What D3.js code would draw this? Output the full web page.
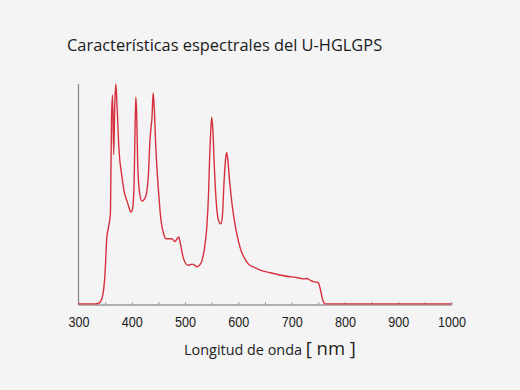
<!DOCTYPE html>
<html>
<head>
<meta charset="utf-8">
<script src="https://cdn.jsdelivr.net/npm/d3@7"></script>
<style>
  html, body { margin: 0; padding: 0; background: #f4f4f4; }
  svg { display: block; }
</style>
</head>
<body>
<svg id="chart" width="520" height="390"></svg>
<script>
// spectrum: wavelength [nm] and relative intensity (top of axis = 100)
const wavelengths = [300, 330, 338, 344, 350, 353, 357, 360, 362, 364, 366, 368, 370, 372, 376, 381, 386, 391, 395, 398, 401, 404, 406, 407.5, 409, 411, 414, 419, 424, 428, 431, 434, 436, 438, 440, 442, 445, 450, 455, 460, 464, 470, 475, 481, 485, 488, 491, 496, 502, 506, 513, 518, 522, 527, 531, 536, 541, 544, 546, 548, 550, 552, 555, 559, 563, 567, 570, 573, 576, 578, 580, 584, 589, 594, 600, 606, 612, 619, 630, 641, 660, 678, 697, 706, 714, 722, 728, 735, 741, 748, 751, 754, 757, 760, 764, 770, 800, 900, 1000]
const intensity   = [0.5, 0.5, 0.8, 3, 15, 30, 36, 42, 85, 95, 68, 90, 100, 92, 70, 59, 51, 47, 44, 42, 43, 52, 78, 94, 88, 65, 52, 47, 48, 51, 58, 74, 80, 85, 96, 90, 72, 52, 38, 32, 30, 30, 30, 28.7, 30, 30.8, 28, 22, 18.5, 18, 18.5, 18, 17.3, 18, 19.6, 25, 36, 50, 66, 78, 85, 80, 62, 45, 38, 36.7, 40, 55, 66, 69, 66, 55, 44, 36, 29, 24, 21, 18.5, 17, 15.8, 14.6, 13.6, 12.8, 12.6, 12.2, 11.8, 12, 11.2, 10.6, 10.3, 9.6, 7, 3.5, 1.2, 0.5, 0.5, 0.5, 0.5, 0.5]
const xTicks = [300, 400, 500, 600, 700, 800, 900, 1000]
const minorTicks = [350, 450, 550, 650, 750, 850, 950]
const titleText = 'Características espectrales del U-HGLGPS'
const xLabelText = 'Longitud de onda'
const xUnitText = '[ nm ]'

const svg = d3.select('#chart')

const plotLeft = 78.5
const plotRight = 451.5
const plotTop = 84
const plotBottom = 305

const x = d3.scaleLinear().domain([300, 1000]).range([plotLeft, plotRight])
const y = d3.scaleLinear().domain([0, 100]).range([plotBottom, plotTop])

// title
svg.append('text')
  .attr('x', 67)
  .attr('y', 51)
  .style('font-family', '"Open Sans", "Noto Sans", sans-serif')
  .style('font-size', '16.4px')
  .style('fill', '#1a1a1a')
  .text(titleText)

// y axis (plain line, no ticks)
svg.append('line')
  .attr('x1', plotLeft).attr('x2', plotLeft)
  .attr('y1', plotTop).attr('y2', plotBottom)
  .style('stroke', '#8a8a8a')
  .style('stroke-width', 1.3)

// x axis: ticks pointing up into the plot
const xAxis = svg.append('g')
  .attr('transform', `translate(0,${plotBottom})`)
  .call(d3.axisBottom(x).tickValues(xTicks.concat(minorTicks)).tickSize(-3).tickPadding(11.5).tickFormat(d => xTicks.includes(d) ? d : ''))

xAxis.select('.domain')
  .attr('d', `M${plotLeft},0H${plotRight}`)
  .style('stroke', '#9a9a9a')
  .style('stroke-width', 1.3)
xAxis.selectAll('.tick line').style('stroke', '#9a9a9a')
// narrow, tall digits like the original
xAxis.selectAll('.tick text')
  .attr('dy', '0.71em')
  .attr('transform', 'scale(0.84,1)')
  .style('font-family', '"Liberation Sans", Arial, sans-serif')
  .style('font-size', '15px')
  .style('fill', '#1a1a1a')

// spectrum line
const points = wavelengths.map((w, i) => [w, intensity[i]])
const line = d3.line()
  .x(d => x(d[0]))
  .y(d => y(d[1]))
  .curve(d3.curveMonotoneX)

svg.append('path')
  .datum(points)
  .attr('d', line)
  .style('fill', 'none')
  .style('stroke', '#d6303f')
  .style('stroke-width', 1.4)
  .style('stroke-linejoin', 'round')

// x axis title
const xt = svg.append('text')
  .attr('x', 270)
  .attr('y', 355)
  .attr('text-anchor', 'middle')
  .style('font-family', '"Open Sans", "Noto Sans", sans-serif')
  .style('fill', '#222')
xt.append('tspan').style('font-size', '14.4px').text(xLabelText + ' ')
xt.append('tspan').style('font-size', '18.5px').text(xUnitText)
</script>
</body>
</html>
